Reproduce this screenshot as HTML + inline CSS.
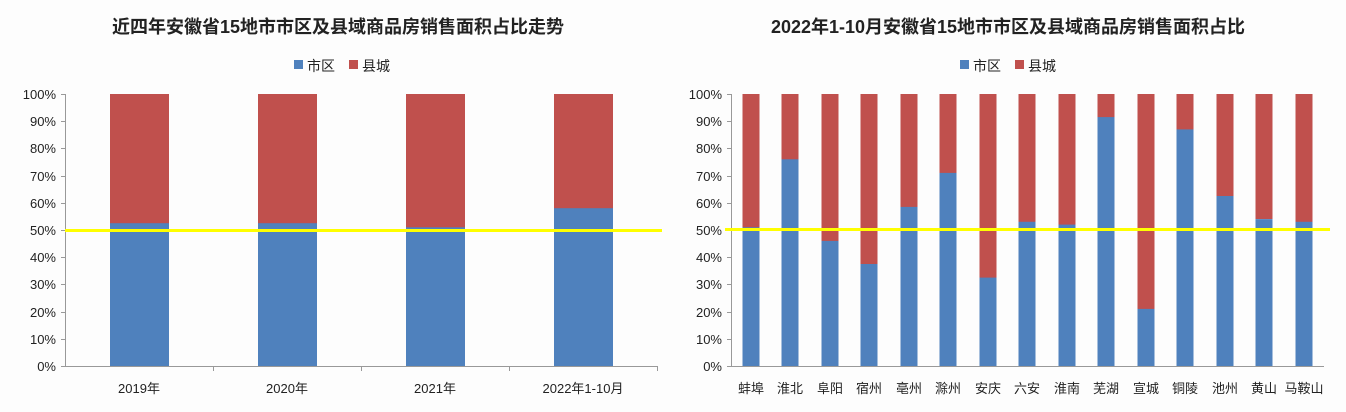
<!DOCTYPE html><html><head><meta charset="utf-8"><style>body{margin:0;background:#fdfdfd}svg{display:block}text{font-family:"Liberation Sans","Noto Sans CJK SC",sans-serif;fill:#222}</style></head><body>
<svg width="1346" height="412" xmlns="http://www.w3.org/2000/svg">
<rect width="1346" height="412" fill="#fdfdfd"/>
<g font-size="18" font-weight="bold" text-anchor="middle"><text x="338" y="33">近四年安徽省15地市市区及县域商品房销售面积占比走势</text><text x="1008" y="33">2022年1-10月安徽省15地市市区及县域商品房销售面积占比</text></g>
<g font-size="14"><rect x="294" y="60" width="9" height="9" fill="#4f81bd"/><text x="307" y="71">市区</text><rect x="349" y="60" width="9" height="9" fill="#c0504d"/><text x="362" y="71">县城</text>
<rect x="960" y="60" width="9" height="9" fill="#4f81bd"/><text x="973" y="71">市区</text><rect x="1015" y="60" width="9" height="9" fill="#c0504d"/><text x="1028" y="71">县城</text></g>
<g font-size="13" text-anchor="end">
<text x="56" y="371">0%</text><text x="56" y="344">10%</text><text x="56" y="317">20%</text><text x="56" y="289">30%</text><text x="56" y="262">40%</text><text x="56" y="235">50%</text><text x="56" y="208">60%</text><text x="56" y="181">70%</text><text x="56" y="153">80%</text><text x="56" y="126">90%</text><text x="56" y="99">100%</text>
<text x="722" y="371">0%</text><text x="722" y="344">10%</text><text x="722" y="317">20%</text><text x="722" y="289">30%</text><text x="722" y="262">40%</text><text x="722" y="235">50%</text><text x="722" y="208">60%</text><text x="722" y="181">70%</text><text x="722" y="153">80%</text><text x="722" y="126">90%</text><text x="722" y="99">100%</text></g>
<g stroke="#999" stroke-width="1" fill="none"><path d="M65.5 94V366.5H658M61 94.5h4M61 121.5h4M61 148.5h4M61 176.5h4M61 203.5h4M61 230.5h4M61 257.5h4M61 284.5h4M61 312.5h4M61 339.5h4M61 366.5h4M213.5 366v5M361.5 366v5M509.5 366v5M657.5 366v5"/>
<path d="M731.5 94V366.5H1324M727 94.5h4M727 121.5h4M727 148.5h4M727 176.5h4M727 203.5h4M727 230.5h4M727 257.5h4M727 284.5h4M727 312.5h4M727 339.5h4M727 366.5h4"/></g>
<g fill="#c0504d"><rect x="110" y="94" width="59" height="130"/><rect x="258" y="94" width="59" height="130"/><rect x="406" y="94" width="59" height="134"/><rect x="554" y="94" width="59" height="115"/>
<rect x="742.5" y="94" width="17" height="134"/><rect x="781.5" y="94" width="17" height="66"/><rect x="821.5" y="94" width="17" height="147"/><rect x="860.5" y="94" width="17" height="170"/><rect x="900.5" y="94" width="17" height="113"/><rect x="939.5" y="94" width="17" height="79"/><rect x="979.5" y="94" width="17" height="184"/><rect x="1018.5" y="94" width="17" height="128"/><rect x="1058.5" y="94" width="17" height="131"/><rect x="1097.5" y="94" width="17" height="24"/><rect x="1137.5" y="94" width="17" height="215"/><rect x="1176.5" y="94" width="17" height="36"/><rect x="1216.5" y="94" width="17" height="102"/><rect x="1255.5" y="94" width="17" height="125"/><rect x="1295.5" y="94" width="17" height="128"/></g>
<g fill="#4f81bd"><rect x="110" y="223.2" width="59" height="142.8"/><rect x="258" y="223.2" width="59" height="142.8"/><rect x="406" y="227.3" width="59" height="138.7"/><rect x="554" y="208.2" width="59" height="157.8"/>
<rect x="742.5" y="227.3" width="17" height="138.7"/><rect x="781.5" y="159.3" width="17" height="206.7"/><rect x="821.5" y="240.9" width="17" height="125.1"/><rect x="860.5" y="264" width="17" height="102"/><rect x="900.5" y="206.9" width="17" height="159.1"/><rect x="939.5" y="172.9" width="17" height="193.1"/><rect x="979.5" y="277.6" width="17" height="88.4"/><rect x="1018.5" y="221.8" width="17" height="144.2"/><rect x="1058.5" y="224.6" width="17" height="141.4"/><rect x="1097.5" y="117.1" width="17" height="248.9"/><rect x="1137.5" y="308.9" width="17" height="57.1"/><rect x="1176.5" y="129.4" width="17" height="236.6"/><rect x="1216.5" y="196" width="17" height="170"/><rect x="1255.5" y="219.1" width="17" height="146.9"/><rect x="1295.5" y="221.8" width="17" height="144.2"/></g>
<g stroke="#ffff00" stroke-width="3" fill="none"><path d="M65 230.5H662M725 229.5H1330"/></g>
<g font-size="13" text-anchor="middle"><text x="139" y="393">2019年</text><text x="287" y="393">2020年</text><text x="435" y="393">2021年</text><text x="583" y="393">2022年1-10月</text>
<text x="751" y="393">蚌埠</text><text x="790" y="393">淮北</text><text x="830" y="393">阜阳</text><text x="869" y="393">宿州</text><text x="909" y="393">亳州</text><text x="948" y="393">滁州</text><text x="988" y="393">安庆</text><text x="1027" y="393">六安</text><text x="1067" y="393">淮南</text><text x="1106" y="393">芜湖</text><text x="1146" y="393">宣城</text><text x="1185" y="393">铜陵</text><text x="1225" y="393">池州</text><text x="1264" y="393">黄山</text><text x="1304" y="393">马鞍山</text></g>
</svg></body></html>
